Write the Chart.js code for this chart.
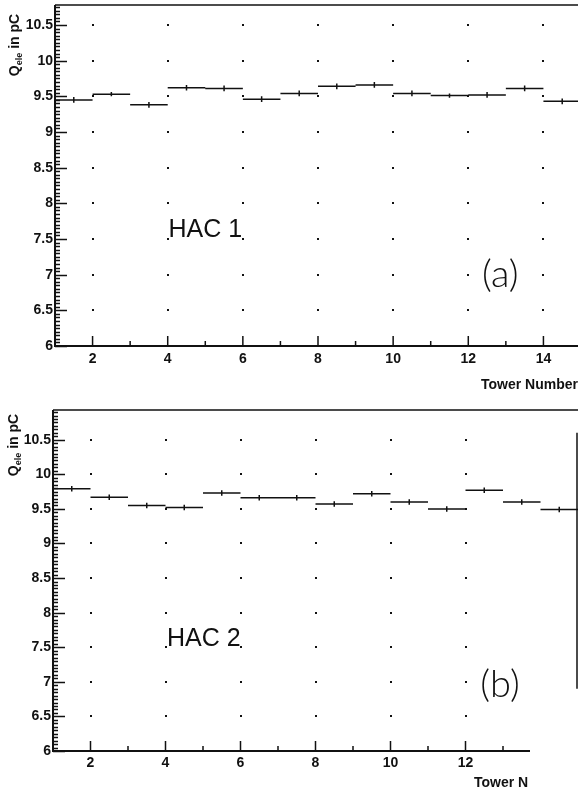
<!DOCTYPE html>
<html>
<head>
<meta charset="utf-8">
<script src="https://cdn.jsdelivr.net/npm/chart.js@4/dist/chart.umd.min.js"></script>
<style>
  html, body { margin: 0; padding: 0; background: #fff; overflow: hidden; }
  .panel { position: absolute; left: 0; }
</style>
</head>
<body>
<div class="panel" style="top:0"><canvas id="hac1" width="581" height="400"></canvas></div>
<div class="panel" style="top:400px"><canvas id="hac2" width="578" height="399"></canvas></div>
<script>
// tower numbers (bin k spans [k, k+1])
const towers = [1, 2, 3, 4, 5, 6, 7, 8, 9, 10, 11, 12, 13, 14];

// mean charge per tower, pC
const hac1 = [9.45, 9.53, 9.38, 9.62, 9.61, 9.46, 9.54, 9.64, 9.66, 9.54, 9.51, 9.52, 9.61, 9.43];
const hac1Err = [0.04, 0.03, 0.04, 0.04, 0.04, 0.04, 0.04, 0.04, 0.04, 0.04, 0.03, 0.04, 0.04, 0.04];
const hac2 = [9.79, 9.67, 9.55, 9.52, 9.73, 9.66, 9.66, 9.57, 9.72, 9.60, 9.50, 9.77, 9.60, 9.49];
const hac2Err = [0.04, 0.04, 0.04, 0.04, 0.04, 0.04, 0.04, 0.04, 0.04, 0.04, 0.04, 0.04, 0.04, 0.04];

const yTicks = [6, 6.5, 7, 7.5, 8, 8.5, 9, 9.5, 10, 10.5];
const xTicksTop = [2, 4, 6, 8, 10, 12, 14];
const xTicksBottom = [2, 4, 6, 8, 10, 12];

const INK = '#111';
const BOLD = 'bold 14px "Liberation Sans", Arial, sans-serif';

function stepData(vals) {
    return towers.flatMap((t, i) => [
        { x: t, y: vals[i] }, { x: t + 1, y: vals[i] }, { x: t + 1, y: null }
    ]);
}
function errData(vals, errs) {
    return towers.flatMap((t, i) => [
        { x: t + 0.5, y: vals[i] - errs[i] }, { x: t + 0.5, y: vals[i] + errs[i] }, { x: t + 0.5, y: null }
    ]);
}

// frame, inward ticks, grid dots and the free text of each panel
const framePlugin = {
    id: 'frame',
    beforeDatasetsDraw(chart) {
        const { ctx, scales: { x, y } } = chart;
        ctx.save();
        ctx.fillStyle = INK;
        x.ticks.forEach(t => {
            yTicks.slice(1).forEach(v => {
                ctx.fillRect(Math.round(x.getPixelForValue(t.value)) - 1, Math.round(y.getPixelForValue(v)) - 1, 2, 2);
            });
        });
        ctx.restore();
    },
    afterDraw(chart, args, o) {
        const { ctx, chartArea: a, scales: { x, y } } = chart;
        ctx.save();
        ctx.strokeStyle = INK;
        ctx.lineWidth = 2;
        const xEnd = x.getPixelForValue(o.axisEnd);
        ctx.beginPath();
        ctx.moveTo(a.left, a.top); ctx.lineTo(a.left, a.bottom); ctx.lineTo(xEnd, a.bottom);
        ctx.stroke();
        ctx.lineWidth = 1.5;
        ctx.beginPath();
        ctx.moveTo(a.left, a.top); ctx.lineTo(a.right, a.top);
        if (o.rightEdge) {
            ctx.moveTo(a.right - 1, y.getPixelForValue(o.rightEdge[0]));
            ctx.lineTo(a.right - 1, y.getPixelForValue(o.rightEdge[1]));
        }
        ctx.stroke();

        // x ticks, pointing up
        ctx.lineWidth = 1.5;
        ctx.beginPath();
        for (let t = 2; t <= o.axisEnd; t++) {
            const px = x.getPixelForValue(t);
            ctx.moveTo(px, a.bottom);
            ctx.lineTo(px, a.bottom - (t % 2 === 0 ? 10 : 5));
        }
        // y ticks, pointing right
        for (let k = 0; 6 + k * 0.05 <= y.max; k++) {
            const py = Math.round(y.getPixelForValue(6 + k * 0.05)) + 0.5;
            ctx.moveTo(a.left, py);
            ctx.lineTo(a.left + (k % 10 === 0 ? 12 : 5), py);
        }
        ctx.stroke();

        // axis titles
        ctx.fillStyle = INK;
        ctx.font = BOLD;
        ctx.textBaseline = 'middle';
        ctx.textAlign = o.xTitleAlign;
        ctx.fillText(o.xTitle, o.xTitlePos[0], o.xTitlePos[1]);

        ctx.save();
        ctx.translate(o.yTitlePos[0], o.yTitlePos[1]);
        ctx.rotate(-Math.PI / 2);
        ctx.textAlign = 'left';
        ctx.textBaseline = 'alphabetic';
        const SUB = 'bold 9px "Liberation Sans", Arial, sans-serif';
        const wQ = ctx.measureText('Q').width;
        ctx.font = SUB;
        const wS = ctx.measureText('ele').width;
        ctx.font = BOLD;
        const wR = ctx.measureText(' in pC').width;
        let cx = -(wQ + wS + wR) / 2;
        ctx.fillText('Q', cx, 5);
        ctx.font = SUB;
        ctx.fillText('ele', cx + wQ, 8);
        ctx.font = BOLD;
        ctx.fillText(' in pC', cx + wQ + wS, 5);
        ctx.restore();

        // detector label and panel letter
        ctx.font = '25px "Liberation Sans", Arial, sans-serif';
        ctx.textAlign = 'left';
        ctx.fillText(o.name, x.getPixelForValue(o.namePos[0]), y.getPixelForValue(o.namePos[1]));
        ctx.font = '300 38px Lato, "DejaVu Sans", sans-serif';
        ctx.textAlign = 'center';
        ctx.fillText(o.letter, x.getPixelForValue(o.letterPos[0]), y.getPixelForValue(o.letterPos[1]));
        ctx.restore();
    }
};

function makePanel(id, vals, errs, opts) {
    return new Chart(document.getElementById(id), {
        type: 'line',
        data: {
            datasets: [
                { data: stepData(vals), borderColor: INK, borderWidth: 1.5, pointRadius: 0, spanGaps: false, tension: 0 },
                { data: errData(vals, errs), borderColor: INK, borderWidth: 1.5, pointRadius: 0, spanGaps: false, tension: 0 }
            ]
        },
        options: {
            responsive: false,
            animation: false,
            devicePixelRatio: 1,
            layout: { padding: { top: opts.top, right: 0, left: 0, bottom: 0 } },
            plugins: { legend: { display: false }, tooltip: { enabled: false }, frame: opts.frame },
            scales: {
                x: {
                    type: 'linear', min: 1, max: 15,
                    grid: { display: false, drawTicks: false },
                    border: { display: false },
                    afterBuildTicks: s => { s.ticks = opts.xTicks.map(v => ({ value: v })); },
                    afterFit: s => { s.height = opts.xHeight; s.paddingLeft = 0; s.paddingRight = 0; },
                    ticks: { autoSkip: false, maxRotation: 0, padding: opts.xPad, color: INK, font: { family: '"Liberation Sans", Arial, sans-serif', size: 14, weight: 'bold' }, callback: v => String(v) }
                },
                y: {
                    type: 'linear', min: 6, max: opts.yMax,
                    grid: { display: false, drawTicks: false },
                    border: { display: false },
                    afterBuildTicks: s => { s.ticks = yTicks.map(v => ({ value: v })); },
                    afterFit: s => { s.width = opts.left; s.paddingTop = 0; s.paddingBottom = 0; },
                    ticks: { padding: 2, color: INK, font: { family: '"Liberation Sans", Arial, sans-serif', size: 14, weight: 'bold' }, callback: v => String(v) }
                }
            }
        },
        plugins: [framePlugin]
    });
}

makePanel('hac1', hac1, hac1Err, {
    top: 5, left: 55, xHeight: 54, xPad: 5, yMax: 10.78, xTicks: xTicksTop,
    frame: {
        axisEnd: 15, xTitle: 'Tower Number', xTitleAlign: 'right', xTitlePos: [578, 385],
        yTitlePos: [14, 45], name: 'HAC 1', namePos: [4.02, 7.62], letter: '(a)', letterPos: [12.85, 7.0]
    }
});

makePanel('hac2', hac2, hac2Err, {
    top: 10, left: 53, xHeight: 48, xPad: 4, yMax: 10.93, xTicks: xTicksBottom,
    frame: {
        axisEnd: 13.72, rightEdge: [10.6, 6.9], xTitle: 'Tower N', xTitleAlign: 'left', xTitlePos: [474, 383],
        yTitlePos: [13, 45], name: 'HAC 2', namePos: [4.04, 7.62], letter: '(b)', letterPos: [12.92, 6.96]
    }
});
</script>
</body>
</html>
